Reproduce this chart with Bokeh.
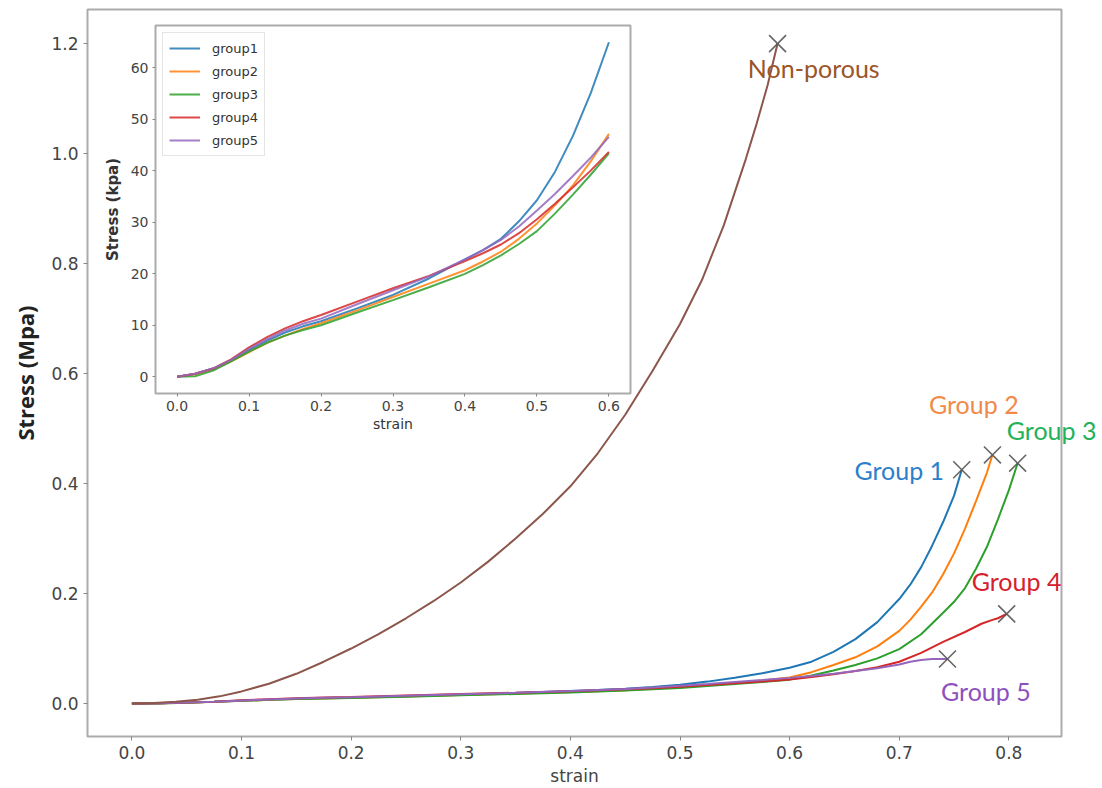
from bokeh.plotting import figure
from bokeh.models import (FixedTicker, NumeralTickFormatter, Legend, LegendItem,
                          Range1d, ColumnDataSource)
from bokeh.embed import file_html
from bokeh.resources import INLINE
from bokeh.core.properties import value

# ---------------- data (stress in kPa, strain dimensionless) ----------------
base_strain = [0, 0.025, 0.05, 0.075, 0.1, 0.125, 0.15, 0.175, 0.2, 0.25, 0.3,
               0.35, 0.4, 0.425, 0.45, 0.475, 0.5, 0.525, 0.55, 0.575, 0.6]

g1_strain = base_strain + [0.62, 0.64, 0.66, 0.68, 0.70, 0.71, 0.72, 0.73, 0.74,
                           0.75, 0.757]
g1_kpa = [0, 0.6, 1.6, 3.2, 5.2, 7.0, 8.6, 9.8, 10.8, 13.3, 15.9, 19.1, 22.8,
          24.6, 26.8, 30.2, 34.3, 39.8, 46.8, 55.2, 65.0,
          76, 94, 117, 148, 190, 216, 248, 287, 330, 378, 425]

g2_strain = base_strain + [0.62, 0.64, 0.66, 0.68, 0.70, 0.71, 0.72, 0.73, 0.74,
                           0.75, 0.76, 0.77, 0.78, 0.785]
g2_kpa = [0, 0.5, 1.4, 3.0, 4.8, 6.6, 8.0, 9.3, 10.4, 12.9, 15.5, 18.1, 20.7,
          22.4, 24.3, 26.8, 29.8, 33.3, 37.2, 41.9, 47.2,
          57, 70, 84, 104, 132, 152, 176, 202, 235, 273, 318, 368, 420, 452]

g3_strain = base_strain + [0.62, 0.64, 0.66, 0.68, 0.70, 0.72, 0.74, 0.75, 0.76,
                           0.77, 0.78, 0.79, 0.80, 0.808]
g3_kpa = [0, 0.1, 1.2, 3.0, 4.9, 6.6, 8.0, 9.1, 10.0, 12.5, 14.9, 17.4, 20.0,
          21.7, 23.6, 25.8, 28.3, 31.7, 35.4, 39.3, 43.4,
          51, 60, 70, 82, 99, 126, 165, 185, 210, 245, 285, 335, 388, 437]

g4_strain = base_strain + [0.62, 0.64, 0.66, 0.68, 0.70, 0.72, 0.74, 0.76, 0.775,
                           0.785, 0.79, 0.798]
g4_kpa = [0, 0.6, 1.6, 3.4, 5.7, 7.7, 9.4, 10.8, 12.0, 14.6, 17.2, 19.6, 22.5,
          24.0, 25.7, 27.9, 30.6, 33.6, 36.8, 40.1, 43.7,
          48, 53, 59, 66, 76, 92, 112, 130, 145, 152, 155, 163]

g5_strain = base_strain + [0.62, 0.64, 0.66, 0.68, 0.70, 0.71, 0.72, 0.73, 0.744]
g5_kpa = [0, 0.6, 1.6, 3.3, 5.4, 7.3, 9.0, 10.3, 11.3, 14.1, 16.8, 19.5, 22.8,
          24.6, 26.6, 29.2, 32.3, 35.5, 39.0, 42.6, 46.6,
          50, 54, 59, 64, 71, 76, 79, 81, 81]

np_strain = [0, 0.02, 0.04, 0.06, 0.08, 0.1, 0.125, 0.15, 0.175, 0.2, 0.225, 0.25,
             0.275, 0.3, 0.325, 0.35, 0.375, 0.4, 0.425, 0.45, 0.475, 0.5, 0.52,
             0.54, 0.55, 0.56, 0.57, 0.58, 0.589]
np_mpa = [0, 0.001, 0.003, 0.007, 0.013, 0.022, 0.036, 0.054, 0.076, 0.100,
          0.126, 0.155, 0.186, 0.22, 0.258, 0.30, 0.345, 0.395, 0.455, 0.525,
          0.605, 0.69, 0.77, 0.87, 0.93, 0.99, 1.055, 1.125, 1.2]

legend_names = ["group1", "group2", "group3", "group4", "group5"]
label_names = ["Group 1", "Group 2", "Group 3", "Group 4", "Group 5", "Non-porous"]
main_x_ticks = [0.0, 0.1, 0.2, 0.3, 0.4, 0.5, 0.6, 0.7, 0.8]
main_y_ticks = [0.0, 0.2, 0.4, 0.6, 0.8, 1.0, 1.2]
inset_x_ticks = [0.0, 0.1, 0.2, 0.3, 0.4, 0.5, 0.6]
inset_y_ticks = [0, 10, 20, 30, 40, 50, 60]

# ---------------- styles / positions ----------------
line_colors = ["#1f77b4", "#ff7f0e", "#2ca02c", "#d62728", "#9467bd", "#8c564b"]
text_colors = ["#2c7fc9", "#f08a4b", "#23b25a", "#d3212d", "#8e50bd", "#9a5528"]
label_x = [0.70, 0.768, 0.839, 0.807, 0.779, 0.622]
label_y = [0.424, 0.544, 0.498, 0.222, 0.022, 1.155]

groups = [(g1_strain, g1_kpa), (g2_strain, g2_kpa), (g3_strain, g3_kpa),
          (g4_strain, g4_kpa), (g5_strain, g5_kpa)]

TICK_FONT = "DejaVu Sans"
W, H = 1102, 788
BL, BR, BT, BB = 87, 41, 9, 52          # main figure borders (px)
XR = (-0.0405, 0.848)
YR = (-0.06, 1.262)

# ---------------- main figure ----------------
p = figure(width=W, height=H, output_backend="svg", toolbar_location=None,
           x_range=Range1d(*XR), y_range=Range1d(*YR),
           min_border_left=BL, min_border_right=BR, min_border_top=BT,
           min_border_bottom=BB)
p.grid.visible = False
p.outline_line_color = "#ababab"
p.outline_line_width = 2
p.background_fill_color = "white"
p.border_fill_color = "white"

for ax in (p.xaxis[0], p.yaxis[0]):
    ax.axis_line_color = None
    ax.major_tick_line_color = "#888888"
    ax.major_tick_out = 4
    ax.major_tick_in = 0
    ax.minor_tick_line_color = None
    ax.major_label_text_font = TICK_FONT
    ax.major_label_text_font_size = "17px"
    ax.major_label_text_color = "#444444"
    ax.major_label_standoff = 5

p.xaxis.ticker = FixedTicker(ticks=main_x_ticks)
p.yaxis.ticker = FixedTicker(ticks=main_y_ticks)
p.xaxis.formatter = NumeralTickFormatter(format="0.0")
p.yaxis.formatter = NumeralTickFormatter(format="0.0")
p.xaxis.axis_label = "strain"
p.xaxis.axis_label_text_font = TICK_FONT
p.xaxis.axis_label_text_font_style = "normal"
p.xaxis.axis_label_text_font_size = "17px"
p.xaxis.axis_label_text_color = "#444444"
p.xaxis.axis_label_standoff = 4
p.yaxis.axis_label = "Stress (Mpa)"
p.yaxis.axis_label_text_font = "Open Sans"
p.yaxis.axis_label_text_font_style = "bold"
p.yaxis.axis_label_text_font_size = "22px"
p.yaxis.axis_label_text_color = "#222222"
p.yaxis.axis_label_standoff = 8

end_x, end_y = [], []
for (sx, sk), c in zip(groups, line_colors[:5]):
    mpa = [v / 1000.0 for v in sk]
    p.line(sx, mpa, line_color=c, line_width=2)
    end_x.append(sx[-1]); end_y.append(mpa[-1])
p.line(np_strain, np_mpa, line_color=line_colors[5], line_width=2)
end_x.append(np_strain[-1]); end_y.append(np_mpa[-1])

p.scatter(x=end_x, y=end_y, marker="x", size=24, line_color="#555555",
          line_width=1.6, line_alpha=0.9)

# ---------------- inset figure ----------------
q = figure(width=535, height=423, output_backend="svg", toolbar_location=None,
           x_range=Range1d(-0.03, 0.63), y_range=Range1d(-3.25, 68.25),
           min_border_left=55, min_border_right=5, min_border_top=10,
           min_border_bottom=45)
q.grid.visible = False
q.outline_line_color = "#ababab"
q.outline_line_width = 2
q.background_fill_color = "white"
q.border_fill_alpha = 0.0
q.styles = {"position": "absolute", "left": "100px", "top": "15px"}

for ax in (q.xaxis[0], q.yaxis[0]):
    ax.axis_line_color = None
    ax.major_tick_line_color = "#888888"
    ax.major_tick_out = 3
    ax.major_tick_in = 0
    ax.minor_tick_line_color = None
    ax.major_label_text_font = TICK_FONT
    ax.major_label_text_font_size = "14px"
    ax.major_label_text_color = "#444444"
    ax.major_label_standoff = 4
    ax.axis_label_text_font = TICK_FONT
    ax.axis_label_text_color = "#333333"

q.xaxis.ticker = FixedTicker(ticks=inset_x_ticks)
q.yaxis.ticker = FixedTicker(ticks=inset_y_ticks)
q.xaxis.formatter = NumeralTickFormatter(format="0.0")
q.yaxis.formatter = NumeralTickFormatter(format="0")
q.xaxis.axis_label = "strain"
q.xaxis.axis_label_text_font_style = "normal"
q.xaxis.axis_label_text_font_size = "14px"
q.xaxis.axis_label_standoff = 2
q.yaxis.axis_label = "Stress (kpa)"
q.yaxis.axis_label_text_font_style = "bold"
q.yaxis.axis_label_text_font_size = "15px"
q.yaxis.axis_label_standoff = 6

items = []
for (sx, sk), c, name in zip(groups, line_colors[:5], legend_names):
    xs = [a for a in sx if a <= 0.6]
    ys = sk[:len(xs)]
    r = q.line(xs, ys, line_color=c, line_width=2, line_alpha=0.85)
    items.append(LegendItem(label=name, renderers=[r]))

leg = Legend(items=items, location="top_left")
leg.label_text_font = TICK_FONT
leg.label_text_font_size = "13px"
leg.label_text_color = "#333333"
leg.border_line_color = "#cccccc"
leg.border_line_width = 1
leg.background_fill_alpha = 0.9
leg.padding = 6
leg.spacing = 5
leg.margin = 7
leg.glyph_width = 31
leg.glyph_height = 18
leg.label_height = 18
leg.label_standoff = 12
q.add_layout(leg)

# ---------------- transparent overlay for the curve labels (not clipped) ----
sx_ = (XR[1] - XR[0]) / (W - BL - BR)
sy_ = (YR[1] - YR[0]) / (H - BT - BB)
o = figure(width=W, height=H, output_backend="svg", toolbar_location=None,
           x_range=Range1d(XR[0] - BL * sx_, XR[1] + BR * sx_),
           y_range=Range1d(YR[0] - BB * sy_, YR[1] + BT * sy_),
           x_axis_location=None, y_axis_location=None,
           min_border_left=0, min_border_right=0, min_border_top=0,
           min_border_bottom=0)
o.grid.visible = False
o.outline_line_color = None
o.background_fill_alpha = 0.0
o.border_fill_alpha = 0.0
o.styles = {"position": "absolute", "left": "0px", "top": "0px",
            "pointer-events": "none"}

lab_src = ColumnDataSource(dict(x=label_x, y=label_y, text=label_names, color=text_colors))
o.text(x="x", y="y", text="text", source=lab_src, text_color="color",
       text_font=value("Lato"), text_font_size="25px",
       text_align="center", text_baseline="middle")

open("out.html", "w").write(file_html([p, q, o], INLINE))
